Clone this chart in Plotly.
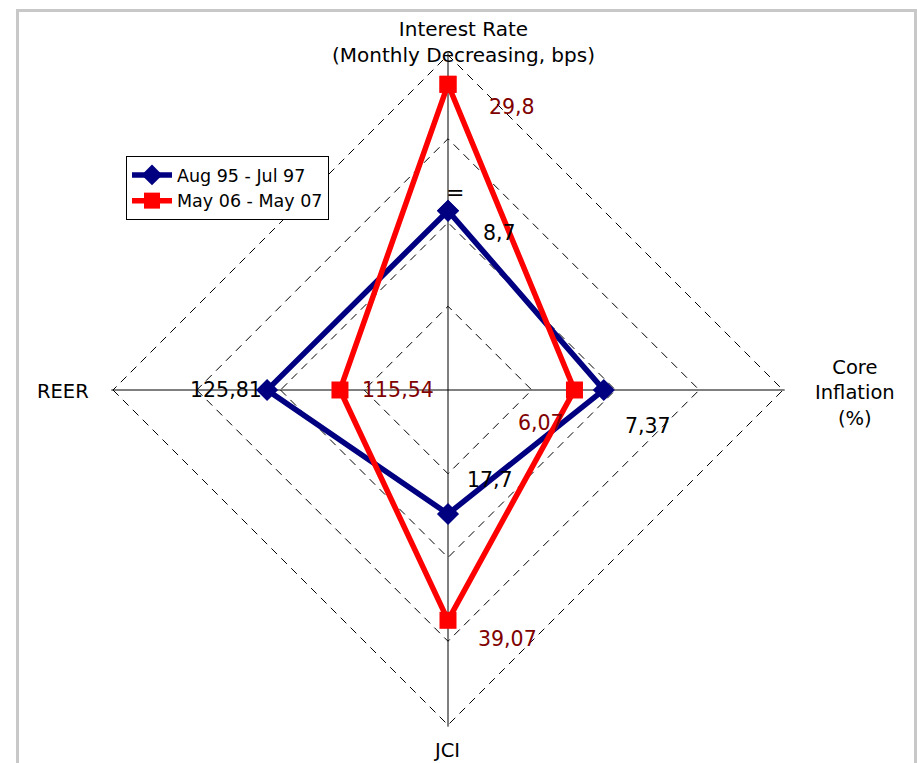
import plotly.graph_objects as go

# ---------------- data ----------------
categories = ["Interest Rate", "Core Inflation", "JCI", "REER"]
series_names = ["Aug 95 - Jul 97", "May 06 - May 07"]
# plotted (index) values, in grid-ring units
blue_index = [2.14, 1.86, 1.48, 2.16]
red_index = [3.65, 1.51, 2.75, 1.29]
# data labels (actual values shown on the chart)
blue_labels = ["8,7", "7,37", "17,7", "125,81"]
red_labels = ["29,8", "6,07", "39,07", "115,54"]
ring_ticks = [1, 2, 3, 4]

# ---------------- layout helpers ----------------
W, H = 917, 763
CX, CY = 448, 390
UNIT = 83.75
RMAX = 4.02
FONT = "DejaVu Sans"
BLUE = "#000080"
RED = "#ff0000"
DARKRED = "#800000"


def px(x):
    return x / W


def py(y):
    return 1 - y / H


R_PX = RMAX * UNIT
dom_x = [px(CX - R_PX), px(CX + R_PX)]
dom_y = [py(CY + R_PX), py(CY - R_PX)]

fig = go.Figure()

fig.add_trace(go.Scatterpolar(
    r=blue_index + blue_index[:1],
    theta=categories + categories[:1],
    mode="lines+markers",
    name=series_names[0],
    line=dict(color=BLUE, width=5.5),
    marker=dict(symbol="diamond", size=17, color=BLUE),
))
fig.add_trace(go.Scatterpolar(
    r=red_index + red_index[:1],
    theta=categories + categories[:1],
    mode="lines+markers",
    name=series_names[1],
    line=dict(color=RED, width=5.5),
    marker=dict(symbol="square", size=17, color=RED),
))

annotations = []

# axis titles
axis_title_pos = [
    ("Interest Rate<br>(Monthly Decreasing, bps)", 463, 42, 20),
    ("Core<br>Inflation<br>(%)", 855, 393, 19.5),
    ("JCI", 446, 750, 19.5),
    ("REER", 63, 391, 19.5),
]
for txt, x, y, fs in axis_title_pos:
    annotations.append(dict(
        text=txt, x=px(x), y=py(y), xref="paper", yref="paper",
        xanchor="center", yanchor="middle", showarrow=False,
        font=dict(family=FONT, size=fs, color="black"),
    ))

# data labels
blue_label_pos = [(499, 233), (648, 426), (490, 480), (226, 390)]
red_label_pos = [(512, 107), (541, 423), (507, 639), (398, 390)]
for labels, poss, col in [(blue_labels, blue_label_pos, "black"),
                          (red_labels, red_label_pos, DARKRED)]:
    for txt, (x, y) in zip(labels, poss):
        annotations.append(dict(
            text=txt, x=px(x), y=py(y), xref="paper", yref="paper",
            xanchor="center", yanchor="middle", showarrow=False,
            font=dict(family=FONT, size=20.5, color=col),
        ))

annotations.append(dict(
    text="=", x=px(455), y=py(193), xref="paper", yref="paper",
    xanchor="center", yanchor="middle", showarrow=False,
    font=dict(family=FONT, size=22, color="black"),
))

fig.update_layout(
    width=W, height=H,
    margin=dict(l=0, r=0, t=0, b=0),
    paper_bgcolor="white",
    plot_bgcolor="white",
    font=dict(family=FONT, color="black"),
    polar=dict(
        domain=dict(x=dom_x, y=dom_y),
        bgcolor="white",
        gridshape="linear",
        radialaxis=dict(
            range=[0, RMAX], tickvals=ring_ticks,
            showticklabels=False, ticks="", showline=False,
            gridcolor="black", gridwidth=1, griddash="8px,6px",
            angle=90,
        ),
        angularaxis=dict(
            categoryorder="array", categoryarray=categories,
            rotation=90, direction="clockwise",
            showticklabels=False, ticks="", showline=False,
            gridcolor="black", gridwidth=1.4,
        ),
    ),
    legend=dict(
        x=px(126), y=py(156), xanchor="left", yanchor="top",
        bgcolor="white", bordercolor="black", borderwidth=1,
        font=dict(family=FONT, size=17.5, color="black"),
        tracegroupgap=0, itemwidth=40,
    ),
    showlegend=True,
    annotations=annotations,
    shapes=[dict(
        type="rect", xref="paper", yref="paper",
        x0=px(17.5), x1=px(915.5), y0=py(800), y1=py(10.5),
        line=dict(color="#c8c8c8", width=3), layer="below",
    )],
)

fig.write_html(
    "out.html",
    config={"displayModeBar": False},
    post_script="document.body.style.margin='0';document.body.style.padding='0';",
)
